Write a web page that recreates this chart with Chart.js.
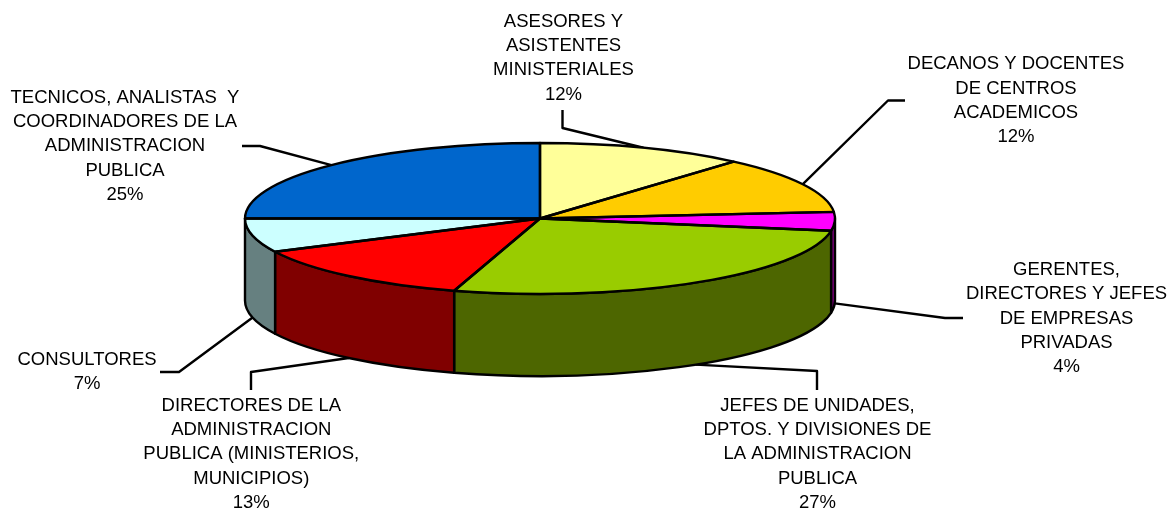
<!DOCTYPE html>
<html>
<head>
<meta charset="utf-8">
<title>Cargos</title>
<style>
    html, body { margin: 0; padding: 0; background: #fff; }
    canvas { display: block; }
</style>
<script src="https://cdn.jsdelivr.net/npm/chart.js@4"></script>
</head>
<body>
<canvas id="pastelChart" width="1169" height="508"></canvas>
<script>
// Categorías, cada una partida en las líneas del rótulo
const categorias = [
    ['ASESORES Y', 'ASISTENTES', 'MINISTERIALES'],
    ['DECANOS Y DOCENTES', 'DE CENTROS', 'ACADEMICOS'],
    ['GERENTES,', 'DIRECTORES Y JEFES', 'DE EMPRESAS', 'PRIVADAS'],
    ['JEFES DE UNIDADES,', 'DPTOS. Y DIVISIONES DE', 'LA ADMINISTRACION', 'PUBLICA'],
    ['DIRECTORES DE LA', 'ADMINISTRACION', 'PUBLICA (MINISTERIOS,', 'MUNICIPIOS)'],
    ['CONSULTORES'],
    ['TECNICOS, ANALISTAS  Y', 'COORDINADORES DE LA', 'ADMINISTRACION', 'PUBLICA']
];

const valores = [11.4, 12.2, 4.0, 27.1, 13.05, 7.25, 25.0];
const porcentajes = ['12%', '12%', '4%', '27%', '13%', '7%', '25%'];

const coloresCara = ['#FFFF99', '#FFCC00', '#FF00FF', '#99CC00', '#FF0000', '#CCFFFF', '#0066CC'];
const coloresLado = ['#808050', '#806600', '#800080', '#4D6600', '#800000', '#668080', '#003366'];

// Posición de cada rótulo (centro x, línea base de la primera línea)
const posRotulos = [
    [563.5, 26.7], [1016, 69.3], [1066.5, 275], [817.5, 410.6], [251.3, 410.6], [87, 365], [125, 102.7]
];
// Quiebre y final de cada línea guía
const guias = [
    [[562.5, 128], [562.5, 110]],
    [[888, 100.5], [905, 100.5]],
    [[945, 318], [963, 318]],
    [[817, 371], [817, 390]],
    [[251, 372], [251, 390]],
    [[179, 372], [160, 372]],
    [[260, 146], [242, 146]]
];

const APLASTADO = 75.5 / 295;
const ALTO_LADO = 82;
const FUENTE = '18.5px "Liberation Sans", Arial, sans-serif';
const INTERLINEA = 24.3;
const GROSOR = 2.4;

// Pone el pastel en perspectiva: dibuja lados, guías, caras y rótulos
const pastel3d = {
    id: 'pastel3d',
    beforeDatasetsDraw(chart) {
        const ctx = chart.ctx;
        const arcos = chart.getDatasetMeta(0).data;
        ctx.save();
        ctx.lineWidth = GROSOR;
        ctx.lineJoin = 'round';
        ctx.strokeStyle = '#000';

        // Líneas guía, salen del punto medio del sector en el borde
        arcos.forEach((arco, i) => {
            const medio = (arco.startAngle + arco.endAngle) / 2;
            const ry = arco.outerRadius * APLASTADO;
            let y = arco.y + ry * Math.sin(medio);
            if (Math.sin(medio) > 0 || Math.abs(Math.cos(medio)) > 0.99) {
                y += ALTO_LADO;
            }
            ctx.beginPath();
            ctx.moveTo(arco.x + arco.outerRadius * Math.cos(medio), y);
            guias[i].forEach(p => ctx.lineTo(p[0], p[1]));
            ctx.stroke();
        });

        // Lado visible (solo la mitad delantera del borde)
        arcos.forEach((arco, i) => {
            const a1 = Math.max(arco.startAngle, 0);
            const a2 = Math.min(arco.endAngle, Math.PI);
            if (a2 <= a1) {
                return;
            }
            const ry = arco.outerRadius * APLASTADO;
            ctx.beginPath();
            ctx.ellipse(arco.x, arco.y, arco.outerRadius, ry, 0, a1, a2);
            ctx.ellipse(arco.x, arco.y + ALTO_LADO, arco.outerRadius, ry, 0, a2, a1, true);
            ctx.closePath();
            ctx.fillStyle = coloresLado[i];
            ctx.fill();
            ctx.stroke();
        });
        ctx.restore();

        // Las caras las dibuja Chart.js, aplastadas en vertical
        const yc = arcos[0].y;
        ctx.save();
        ctx.translate(0, yc);
        ctx.scale(1, APLASTADO);
        ctx.translate(0, -yc);
    },
    afterDatasetsDraw(chart) {
        const ctx = chart.ctx;
        ctx.restore();
        const arcos = chart.getDatasetMeta(0).data;

        ctx.save();
        ctx.lineWidth = GROSOR;
        ctx.lineJoin = 'round';
        ctx.strokeStyle = '#000';
        arcos.forEach(arco => {
            ctx.beginPath();
            ctx.moveTo(arco.x, arco.y);
            ctx.ellipse(arco.x, arco.y, arco.outerRadius, arco.outerRadius * APLASTADO, 0, arco.startAngle, arco.endAngle);
            ctx.closePath();
            ctx.stroke();
        });

        // Rótulos
        ctx.font = FUENTE;
        ctx.fillStyle = '#000';
        ctx.textAlign = 'center';
        ctx.textBaseline = 'alphabetic';
        categorias.forEach((lineas, i) => {
            const [x, y] = posRotulos[i];
            lineas.concat(porcentajes[i]).forEach((linea, n) => {
                ctx.fillText(linea, x, y + n * INTERLINEA);
            });
        });
        ctx.restore();
    }
};

const ctxPastel = document.getElementById('pastelChart').getContext('2d');
new Chart(ctxPastel, {
    type: 'pie',
    data: {
        labels: categorias.map(lineas => lineas.join(' ')),
        datasets: [{
            data: valores,
            backgroundColor: coloresCara,
            borderWidth: 0
        }]
    },
    options: {
        responsive: false,
        animation: false,
        radius: 295,
        layout: { padding: { left: 0, top: 0, right: 89, bottom: 71 } },
        plugins: {
            legend: { display: false },
            tooltip: { enabled: false }
        }
    },
    plugins: [pastel3d]
});
</script>
</body>
</html>
